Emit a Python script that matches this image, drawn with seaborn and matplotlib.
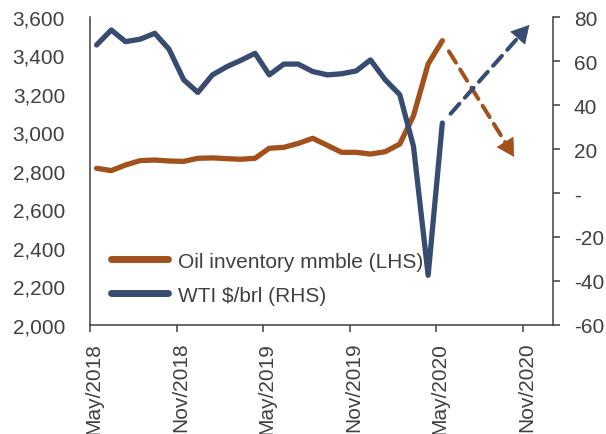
import matplotlib
matplotlib.use("Agg")
import matplotlib.pyplot as plt
import matplotlib.dates as mdates
import matplotlib.transforms as mtransforms
from matplotlib.ticker import FuncFormatter, FixedLocator
import seaborn as sns
import pandas as pd

# Monthly observations, May 2018 - May 2020 (plotted mid-month)
months = pd.date_range("2018-05-01", "2020-05-01", freq="MS") + pd.Timedelta(days=14)
inventory_mmbl = [2814, 2802, 2831, 2854, 2857, 2852, 2850, 2866, 2868, 2864, 2861, 2866,
                  2918, 2923, 2943, 2970, 2933, 2897, 2897, 2888, 2900, 2940, 3087, 3356, 3477]
wti_usd = [67.3, 74.1, 68.8, 69.9, 72.6, 65.4, 51.5, 45.7, 53.7, 57.5, 60.2, 63.5,
           53.7, 58.6, 58.6, 55.2, 53.7, 54.2, 55.5, 60.5, 51.5, 44.7, 21.2, -37.4, 31.8]

# Projected direction arrows (end point of each outlook)
inventory_outlook_end = (pd.Timestamp("2020-10-14"), 2873)
wti_outlook_end = (pd.Timestamp("2020-11-15"), 76.4)

tick_dates = pd.to_datetime(["2018-05-01", "2018-11-01", "2019-05-01",
                             "2019-11-01", "2020-05-01", "2020-11-01"])
left_ticks = list(range(2000, 3601, 200))
right_ticks = list(range(-60, 81, 20))

ORANGE = "#A3511C"
BLUE = "#374C70"
GREY = "#404040"

sns.set_theme(style="white")
plt.rcParams["font.family"] = ["Liberation Sans", "DejaVu Sans"]
plt.rcParams["axes.unicode_minus"] = False

df = pd.DataFrame({"date": months, "inventory": inventory_mmbl, "wti": wti_usd})

fig = plt.figure(figsize=(6.06, 4.35), dpi=100)
ax = fig.add_axes([90 / 606, 1 - 326 / 435, (553 - 90) / 606, (326 - 18) / 435])
ax2 = ax.twinx()

sns.lineplot(data=df, x="date", y="inventory", ax=ax, color=ORANGE, lw=3.8,
             label="Oil inventory mmble (LHS)", legend=False)
sns.lineplot(data=df, x="date", y="wti", ax=ax2, color=BLUE, lw=3.8,
             label="WTI $/brl (RHS)", legend=False)


def outlook_arrow(axis, start, end, color):
    s = (mdates.date2num(start[0]), start[1])
    e = (mdates.date2num(end[0]), end[1])
    # dashed shaft
    axis.annotate("", xy=e, xytext=s,
                  arrowprops=dict(arrowstyle="-", color=color, lw=2.9,
                                  linestyle=(0, (3.3, 2.0)),
                                  shrinkA=9, shrinkB=9))
    # solid head
    hs = (e[0] - 0.04 * (e[0] - s[0]), e[1] - 0.04 * (e[1] - s[1]))
    axis.annotate("", xy=e, xytext=hs,
                  arrowprops=dict(arrowstyle="-|>,head_length=0.75,head_width=0.42",
                                  color=color, lw=0.5, mutation_scale=16,
                                  shrinkA=0, shrinkB=0))


outlook_arrow(ax, (months[-1], inventory_mmbl[-1]), inventory_outlook_end, ORANGE)
outlook_arrow(ax2, (months[-1], wti_usd[-1]), wti_outlook_end, BLUE)

ax.set_xlim(pd.Timestamp("2018-05-01"), pd.Timestamp("2021-01-04"))
ax.set_ylim(2000, 3600)
ax2.set_ylim(-60, 80)

ax.xaxis.set_major_locator(FixedLocator(mdates.date2num(tick_dates)))
ax.xaxis.set_major_formatter(mdates.DateFormatter("%b/%Y"))
ax.set_yticks(left_ticks)
ax.yaxis.set_major_formatter(FuncFormatter(lambda v, p: f"{int(v):,}"))
ax2.set_yticks(right_ticks)
ax2.yaxis.set_major_formatter(FuncFormatter(lambda v, p: "-" if v == 0 else f"{int(v)}"))

ax.set_xlabel("")
ax.set_ylabel("")
ax2.set_ylabel("")

for a in (ax, ax2):
    for side in ("top", "left", "right", "bottom"):
        a.spines[side].set_visible(False)
ax.spines["left"].set_visible(True)
ax.spines["bottom"].set_visible(True)
ax2.spines["right"].set_visible(True)
for sp in (ax.spines["left"], ax.spines["bottom"], ax2.spines["right"]):
    sp.set_color(GREY)
    sp.set_linewidth(1.1)

ax.tick_params(axis="y", left=False, length=0, pad=18, labelsize=15, labelcolor=GREY)
ax.tick_params(axis="x", bottom=True, direction="out", length=5, width=1.1,
               color=GREY, pad=7, labelsize=15, labelcolor=GREY, labelrotation=90)
ax2.tick_params(axis="y", right=True, direction="out", length=5, width=1.1,
                color=GREY, pad=10, labelsize=15, labelcolor=GREY)

shift = mtransforms.ScaledTranslation(4 / 100, 0, fig.dpi_scale_trans)
for lbl in ax.get_xticklabels():
    lbl.set_transform(lbl.get_transform() + shift)

h1, l1 = ax.get_legend_handles_labels()
h2, l2 = ax2.get_legend_handles_labels()
leg = ax2.legend(h1 + h2, l1 + l2, loc="lower left", bbox_to_anchor=(0.005, 0.005),
                 frameon=False, fontsize=15, handlelength=2.75, handletextpad=0.45,
                 labelspacing=0.72, borderpad=0.4)
for t in leg.get_texts():
    t.set_color(GREY)
for line in leg.get_lines():
    line.set_linewidth(5)
    line.set_solid_capstyle("round")

fig.savefig("out.png", dpi=100)
